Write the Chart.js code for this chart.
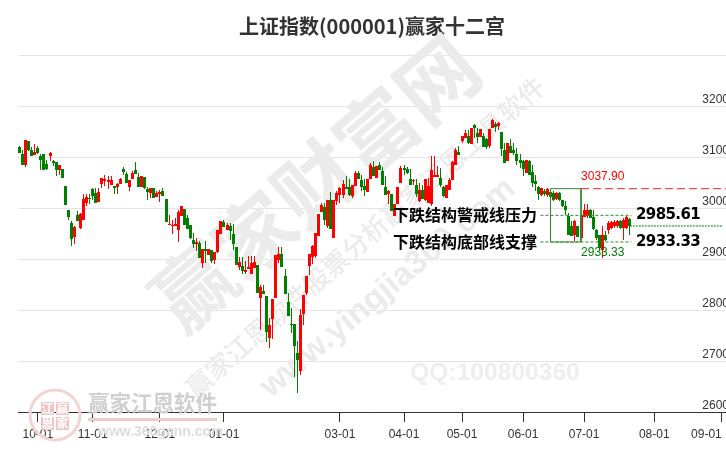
<!DOCTYPE html>
<html lang="zh">
<head>
  <meta charset="UTF-8">
  <title>上证指数(000001)赢家十二宫</title>
  <script src="https://cdn.jsdelivr.net/npm/chart.js"></script>
  <style>
    html, body { margin: 0; background: #fff; }
    canvas { display: block; }
  </style>
</head>
<body>
  <canvas id="kline" width="726" height="450"></canvas>

  <script>
    const slotCount = 232;
    const tickIndex = [6, 24, 46, 67, 105, 126, 145, 165, 185, 208, 230];
    const tickNames = ["10-01", "11-01", "12-01", "01-01", "03-01", "04-01", "05-01", "06-01", "07-01", "08-01", "09-01\u00a0\u00a0\u00a0\u00a0\u00a0\u00a0\u00a0\u00a0\u00a0"];

    const opens = [
      3120,3105,3084,3132,3114,3103,3118,3101,3105,3087,
      3101,3092,3091,3075,3076,3044,2997,2971,2944,2987,
      2960,2977,3010,3020,3038,3030,3011,3047,3052,3051,
      3046,3044,3042,3048,3076,3067,3042,3056,3075,3061,
      3041,3061,3038,3029,3039,3021,3027,3034,3018,2966,
      2965,2965,2956,2985,2999,2980,2967,2938,2929,2932,
      2892,2920,2908,2918,2899,2914,2950,2973,2956,2965,
      2950,2924,2884,2887,2874,2881,2871,2882,2889,2823,
      2837,2827,2746,2782,2824,2899,2910,2867,2816,2773,
      2773,2716,2680,2792,2833,2886,2904,2905,2945,2992,
      3002,2965,3016,2942,3013,3026,3026,3042,3041,3024,
      3044,3069,3054,3044,3031,3057,3080,3058,3085,3072,
      3041,3027,3028,2985,3007,3049,3078,3076,3057,3052,
      3046,3013,3036,3016,3010,3007,3060,3060,3059,3041,
      3020,3036,3054,3085,3110,3131,3137,3142,3126,3162,
      3148,3139,3142,3135,3121,3156,3165,3160,3150,3113,
      3093,3122,3114,3105,3095,3092,3069,3092,3070,3052,
      3041,3026,3033,3026,3031,3029,3018,3029,3015,3003,
      2984,2964,2948,2964,2941,2982,2985,2997,2982,2956,
      2948,2918,2948,2956,2961,2964,2964,2974,2961,2961,2978
    ];
    const closes = [
      3107,3084,3134,3114,3101,3109,3108,3095,3074,3077,
      3108,3088,3074,3084,3058,3005,2982,2939,2963,2974,
      2989,3018,3022,3018,3024,3009,3032,3059,3057,3054,
      3054,3039,3048,3057,3071,3050,3055,3069,3067,3042,
      3063,3040,3031,3040,3020,3030,3032,3023,2972,2969,
      2967,2969,2992,3004,2967,2958,2941,2930,2934,2901,
      2920,2915,2920,2897,2914,2956,2975,2963,2967,2954,
      2929,2888,2894,2877,2878,2884,2892,2895,2833,2846,
      2831,2756,2771,2822,2907,2910,2884,2831,2788,2771,
      2729,2701,2791,2829,2867,2910,2925,2951,2989,3005,
      2976,3016,2959,3016,3029,3039,3048,3038,3026,3045,
      3069,3056,3042,3036,3056,3085,3062,3082,3075,3046,
      3025,3033,2994,3008,3041,3078,3075,3069,3046,3054,
      3027,3035,3018,3057,3044,3075,3065,3064,3046,3024,
      3046,3054,3090,3114,3103,3142,3148,3127,3157,3156,
      3139,3155,3120,3119,3155,3172,3159,3167,3116,3088,
      3127,3108,3107,3092,3088,3076,3095,3065,3049,3048,
      3027,3039,3027,3038,3022,3016,3029,3016,3003,2997,
      2948,2946,2974,2944,2987,2997,2997,2980,2958,2941,
      2922,2948,2938,2971,2972,2973,2975,2961,2977,2982,2965
    ];
    const highs = [
      3122,3114,3134,3132,3120,3126,3122,3105,3105,3095,
      3110,3095,3091,3084,3076,3044,2997,2975,2964,2995,
      2990,3028,3028,3028,3040,3040,3039,3059,3065,3063,
      3062,3044,3050,3059,3081,3071,3055,3072,3091,3069,
      3063,3061,3041,3040,3039,3033,3036,3039,3018,2987,
      2977,2980,2997,3004,2999,2986,2967,2951,2942,2935,
      2920,2936,2920,2918,2914,2956,2975,2977,2970,2970,
      2969,2924,2904,2904,2897,2905,2905,2905,2889,2850,
      2850,2827,2784,2822,2907,2924,2924,2880,2833,2804,
      2773,2740,2802,2829,2867,2910,2928,2951,2989,3010,
      3010,3016,3032,3016,3033,3042,3054,3062,3056,3045,
      3072,3072,3065,3056,3056,3088,3092,3082,3091,3080,
      3062,3036,3028,3008,3041,3082,3085,3080,3076,3056,
      3056,3050,3046,3057,3059,3101,3101,3082,3078,3044,
      3046,3059,3093,3118,3122,3142,3152,3152,3157,3164,
      3156,3155,3147,3137,3155,3175,3168,3168,3150,3127,
      3127,3135,3127,3118,3105,3095,3095,3095,3085,3065,
      3044,3040,3037,3039,3036,3033,3031,3031,3016,3013,
      2990,2974,2977,2964,2990,3007,3007,2998,2997,2958,
      2948,2964,2954,2974,2975,2977,2977,2977,2980,2985,2980
    ];
    const lows = [
      3107,3084,3080,3112,3101,3103,3106,3074,3074,3074,
      3093,3082,3063,3065,3058,3005,2977,2925,2930,2974,
      2958,2977,3003,3008,3016,3009,3011,3039,3044,3038,
      3046,3028,3028,3048,3065,3050,3033,3056,3067,3042,
      3041,3038,3016,3020,3020,3021,3011,3023,2972,2966,
      2950,2965,2933,2985,2967,2958,2939,2922,2915,2901,
      2883,2892,2907,2892,2891,2912,2950,2963,2956,2938,
      2918,2888,2879,2871,2871,2880,2871,2882,2833,2761,
      2831,2737,2725,2744,2824,2892,2884,2831,2788,2754,
      2668,2637,2672,2771,2829,2869,2890,2901,2945,2992,
      2967,2960,2959,2942,3005,3010,3020,3038,3024,3019,
      3044,3056,3033,3023,3031,3057,3062,3058,3075,3046,
      3025,3007,2994,2985,3007,3049,3065,3067,3046,3046,
      3022,3011,3018,3013,3010,3003,3060,3060,3042,3022,
      3020,3036,3054,3085,3103,3127,3137,3126,3126,3137,
      3127,3139,3120,3116,3118,3156,3150,3152,3101,3088,
      3093,3108,3103,3085,3078,3062,3069,3065,3042,3033,
      3015,3024,3023,3022,3022,3013,3015,3013,3002,2987,
      2948,2946,2935,2943,2938,2982,2980,2980,2956,2938,
      2918,2902,2935,2950,2959,2961,2961,2958,2938,2959,2948
    ];

    const yMin = 2600;
    const yMax = 3300;
    const upperMark = 3037.90;
    const pressure = 2985.61;
    const support = 2933.33;
    const lastClose = 2964.7;
    const boxSlots = [174, 184];
    const levelSlots = [170.7, 200.5];
    const upperSlots = [184, 231.5];
    const lastSlots = [200, 230.5];

    const RED = "#ff0000";
    const GREEN = "#008000";
    const xLabels = Array.from({ length: slotCount }, (_, i) => {
      const pos = tickIndex.indexOf(i);
      return pos < 0 ? "" : tickNames[pos];
    });
    const candleColors = opens.map((o, i) => closes[i] >= o ? RED : GREEN);

    const hLine = (slots, y) => slots.map(x => ({ x, y }));

    // 水印，压在K线下面
    const watermark = {
      id: "watermark",
      beforeDatasetsDraw(chart) {
        const ctx = chart.ctx;
        const rotated = (text, x, y, font, color, deg) => {
          ctx.save();
          ctx.translate(x, y);
          ctx.rotate(-deg * Math.PI / 180);
          ctx.font = font;
          ctx.fillStyle = color;
          ctx.textAlign = "center";
          ctx.textBaseline = "middle";
          ctx.fillText(text, 0, 0);
          ctx.restore();
        };
        rotated("赢家财富网", 315, 183, "bold 80px 'Noto Sans CJK SC'", "#ebebeb", 40.5);
        rotated("赢家江恩软件股票分析赢家江恩工具软件", 365, 237, "500 26px 'Noto Sans CJK SC'", "#ebebeb", 41.4);
        rotated("www.yingjia360.com", 388, 288, "bold 33px 'Liberation Sans'", "#ebebeb", 40);
        rotated("QQ:100800360", 495, 373, "bold 24.6px 'Liberation Sans'", "#eeeeee", 0);

        // 左下角logo
        ctx.save();
        ctx.strokeStyle = "#f3d3d3";
        ctx.lineWidth = 3;
        ctx.beginPath();
        ctx.arc(55, 415, 25, 0, Math.PI * 2);
        ctx.stroke();
        ctx.fillStyle = "#f0c4c4";
        ctx.fillRect(41, 402, 13, 13);
        ctx.fillRect(56, 402, 13, 13);
        ctx.fillRect(41, 417, 13, 13);
        ctx.fillRect(56, 417, 13, 13);
        ctx.font = "bold 12px 'Noto Sans CJK SC'";
        ctx.fillStyle = "#ffffff";
        ctx.textAlign = "center";
        ctx.textBaseline = "middle";
        ctx.fillText("江", 47.5, 408.5);
        ctx.fillText("赢", 62.5, 408.5);
        ctx.fillText("恩", 47.5, 423.5);
        ctx.fillText("家", 62.5, 423.5);
        ctx.textAlign = "left";
        ctx.font = "bold 21.5px 'Noto Sans CJK SC'";
        ctx.fillStyle = "#cfcfcf";
        ctx.fillText("赢家江恩软件", 88, 403);
        ctx.fillStyle = "#eecccc";
        ctx.fillRect(88, 418, 129, 3);
        ctx.font = "bold 14px 'Liberation Sans'";
        ctx.fillStyle = "#dddddd";
        ctx.fillText("www.360gann.com", 98, 432);
        ctx.restore();
      }
    };

    // 文字标注
    const notes = {
      id: "notes",
      afterDatasetsDraw(chart) {
        const ctx = chart.ctx;
        const xs = chart.scales.x2;
        const ys = chart.scales.y;
        const put = (text, x, y, font, color, spacing) => {
          ctx.font = font;
          ctx.fillStyle = color;
          ctx.letterSpacing = spacing || "0px";
          ctx.textAlign = "left";
          ctx.textBaseline = "middle";
          ctx.fillText(text, x, y);
        };
        ctx.save();
        const boxRight = xs.getPixelForValue(boxSlots[1]);
        put(upperMark.toFixed(2), boxRight, ys.getPixelForValue(upperMark) - 12, "12px 'Liberation Sans'", RED);
        put(support.toFixed(2), boxRight, ys.getPixelForValue(support) + 11, "12px 'Liberation Sans'", GREEN);
        const cjk = "bold 16px 'Noto Sans CJK SC'";
        put("下跌结构警戒线压力", 393, ys.getPixelForValue(pressure), cjk, "#000");
        put("下跌结构底部线支撑", 393, ys.getPixelForValue(support), cjk, "#000");
        const num = "bold 15px 'DejaVu Sans'";
        put(pressure.toFixed(2), 636, ys.getPixelForValue(pressure), num, "#000", "-0.6px");
        put(support.toFixed(2), 636, ys.getPixelForValue(support), num, "#000", "-0.6px");
        ctx.restore();
      }
    };

    // K线对齐到整像素，避免发虚
    const snapBars = {
      id: "snapBars",
      afterDatasetsUpdate(chart) {
        chart.data.datasets.forEach((ds, i) => {
          if (ds.type !== "bar") return;
          chart.getDatasetMeta(i).data.forEach(bar => {
            bar.x = Math.floor(bar.x) + 0.5;
            bar.y = Math.round(bar.y);
            bar.base = Math.round(bar.base);
          });
        });
      }
    };

    const levelLine = (label, data, color, dash) => ({
      type: "line",
      label,
      data,
      xAxisID: "x2",
      borderColor: color,
      borderWidth: 1,
      borderDash: dash,
      pointRadius: 0,
      tension: 0,
      order: 0
    });

    // 横轴不留多余边距，否则K线会被压窄
    const fitX = (height) => (scale) => {
      scale.height = height;
      scale.paddingLeft = 0;
      scale.paddingRight = 0;
    };

    new Chart(document.getElementById("kline"), {
      type: "bar",
      plugins: [watermark, snapBars, notes],
      data: {
        labels: xLabels,
        datasets: [
          {
            type: "bar",
            label: "wick",
            data: lows.map((l, i) => [l, highs[i]]),
            backgroundColor: candleColors,
            barThickness: 1,
            grouped: false,
            inflateAmount: 0,
            order: 2
          },
          {
            type: "bar",
            label: "body",
            data: opens.map((o, i) => [o, closes[i]]),
            backgroundColor: candleColors,
            barThickness: 3,
            grouped: false,
            inflateAmount: 0,
            order: 1
          },
          levelLine("upper", hLine(upperSlots, upperMark), "#ff2222", [8, 4]),
          levelLine("pressure", hLine(levelSlots, pressure), "#2e8b2e", [3, 2]),
          levelLine("support", hLine(levelSlots, support), "#2e8b2e", [3, 2]),
          levelLine("last", hLine(lastSlots, lastClose), GREEN, [2, 1]),
          levelLine("box", [
            { x: boxSlots[0], y: support },
            { x: boxSlots[0], y: upperMark },
            { x: boxSlots[1], y: upperMark },
            { x: boxSlots[1], y: support },
            { x: boxSlots[0], y: support }
          ], "#2e8b2e", [])
        ]
      },
      options: {
        responsive: false,
        animation: false,
        devicePixelRatio: 1,
        layout: { padding: { left: 18, right: 0, top: 0, bottom: 0 } },
        plugins: {
          legend: { display: false },
          tooltip: { enabled: false },
          title: {
            display: true,
            text: "上证指数(000001)赢家十二宫",
            color: "#333",
            font: { family: "'Noto Sans CJK SC'", size: 20, weight: "bold", lineHeight: 1.2 },
            padding: { top: 14, bottom: 17 }
          }
        },
        scales: {
          x: {
            offset: true,
            afterFit: fitX(38),
            border: { color: "#333", width: 1 },
            grid: {
              offset: false,
              drawOnChartArea: false,
              tickLength: 10,
              tickColor: c => xLabels[c.index] ? "#333" : "transparent"
            },
            ticks: {
              autoSkip: false,
              maxRotation: 0,
              minRotation: 0,
              padding: 5,
              color: "#333",
              font: { family: "'Liberation Sans'", size: 12 }
            }
          },
          x2: {
            type: "linear",
            position: "bottom",
            offset: false,
            min: -0.5,
            max: slotCount - 0.5,
            afterFit: fitX(0),
            border: { display: false },
            grid: { display: false },
            ticks: { display: false }
          },
          y: {
            position: "right",
            min: yMin,
            max: yMax,
            afterFit: scale => { scale.width = 0; },
            border: { display: false },
            grid: { color: "#e4e4e4", lineWidth: 1, drawTicks: false },
            ticks: {
              stepSize: 100,
              mirror: true,
              padding: 3,
              labelOffset: -6,
              color: "#333",
              font: { family: "'Liberation Sans'", size: 12 },
              callback: v => v >= yMax ? "" : v
            }
          }
        }
      }
    });
  </script>
</body>
</html>
